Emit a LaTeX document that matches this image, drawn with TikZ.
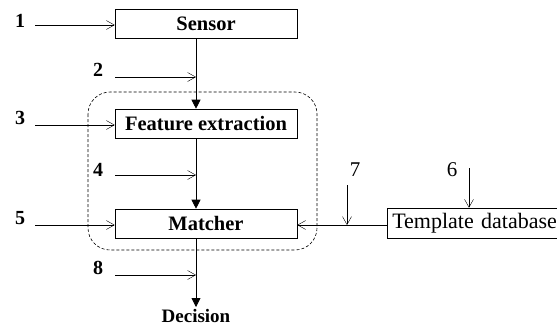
\documentclass[tikz,border=0pt]{standalone}
\usepackage{fontspec}
\setmainfont{Liberation Serif}
\usetikzlibrary{arrows.meta}
\begin{document}
\begin{tikzpicture}[x=1pt,y=-1pt,
  blockbox/.style={draw,semithick,minimum width=182pt,minimum height=29pt,inner sep=0pt,font=\fontsize{20.5}{22}\selectfont\bfseries},
  numlab/.style={font=\fontsize{20}{22}\selectfont\bfseries,inner sep=0pt},
  thinlab/.style={font=\fontsize{21}{23}\selectfont,inner sep=0pt},
  inarrow/.style={-{Straight Barb[length=8pt,width=9pt]}},
  flow/.style={thick,-{Triangle[length=9pt,width=9pt]}}]
\useasboundingbox (0,0) rectangle (557,327);
\node[blockbox] (sensor) at (206,23.5) {Sensor};
\node[blockbox] (feat) at (206,123.5) {Feature extraction};
\node[blockbox] (match) at (206,223.5) {Matcher};
\node[draw,semithick,anchor=west,minimum height=30pt,text width=220pt,inner xsep=5pt,align=left,font=\fontsize{22}{24}\selectfont] (tmpl) at (387,223) {Template database};
\node[font=\fontsize{19}{21}\selectfont\bfseries,anchor=base,inner sep=0pt] (dec) at (196,322) {Decision};
\coordinate (decin) at (196,307);
\draw[dashed,semithick,dash pattern=on 3pt off 2pt,rounded corners=22pt] (88,92) rectangle (317,250);
% main flow
\draw[flow] (sensor.south -| 196,0) -- (feat.north -| 196,0);
\draw[flow] (feat.south -| 196,0) -- (match.north -| 196,0);
\draw[flow] (match.south -| 196,0) -- (decin);
% inputs
\node[numlab] (n1) at (20,21) {1};
\coordinate (s1) at (35,25);
\draw[inarrow] (s1) -- (sensor.west |- s1);
\node[numlab] (n2) at (98,70) {2};
\coordinate (s2) at (115,77);
\coordinate (e2) at (196,77);
\draw[inarrow] (s2) -- (e2);
\node[numlab] (n3) at (20,118) {3};
\coordinate (s3) at (35,125);
\draw[inarrow] (s3) -- (feat.west |- s3);
\node[numlab] (n4) at (98,170) {4};
\coordinate (s4) at (115,175);
\coordinate (e4) at (196,175);
\draw[inarrow] (s4) -- (e4);
\node[numlab] (n5) at (20,218) {5};
\coordinate (s5) at (35,225);
\draw[inarrow] (s5) -- (match.west |- s5);
\node[numlab] (n8) at (98,268) {8};
\coordinate (s8) at (115,275);
\coordinate (e8) at (196,275);
\draw[inarrow] (s8) -- (e8);
% template
\draw[inarrow] (tmpl.west |- 0,225) -- (match.east |- 0,225);
\node[thinlab] (n7) at (355,170) {7};
\coordinate (s7) at (347,185);
\coordinate (e7) at (347,225);
\draw[inarrow] (s7) -- (e7);
\node[thinlab] (n6) at (452,170) {6};
\coordinate (s6) at (469,168);
\draw[inarrow] (s6) -- (tmpl.north -| s6);
\end{tikzpicture}
\end{document}
